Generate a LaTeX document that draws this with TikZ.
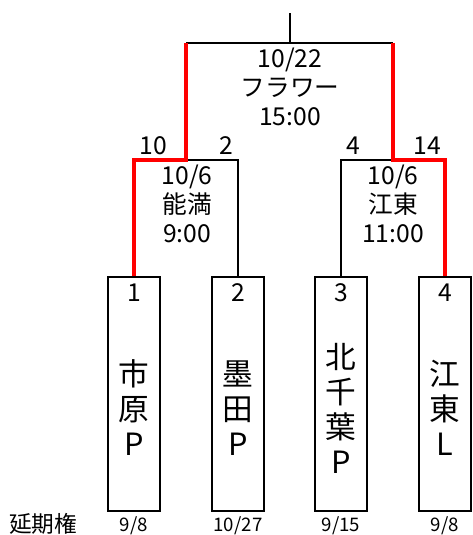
\documentclass[tikz,border=0pt]{standalone}
\usepackage{fontspec}
\setmainfont{Noto Sans CJK JP}
\usetikzlibrary{positioning}
\tikzset{team/.style={draw, line width=1.5pt, minimum width=39pt, minimum height=175.5pt, inner sep=0pt}}
\tikzset{bline/.style={line width=1.5pt}}
\tikzset{won/.style={red, line width=3pt}}
\tikzset{info/.style={align=center, inner sep=0pt, font=\fontsize{18.5}{22}\selectfont}}
\tikzset{club/.style={align=center, inner sep=0pt, font=\fontsize{23}{26.25}\selectfont}}
\tikzset{datesmall/.style={inner sep=0pt, font=\fontsize{14}{15}\selectfont}}

\begin{document}
\begin{tikzpicture}[x=0.75pt, y=-0.75pt]
	\useasboundingbox (0,0) rectangle (473,535);
	% teams
	\node [team] (t1) at (134,394) {};
	\node [team] (t2) at (238,394) {};
	\node [team] (t3) at (341,394) {};
	\node [team] (t4) at (445,394) {};
	\node [info] (n1) at (134,293) {1};
	\node [info] (n2) at (238,293) {2};
	\node [info] (n3) at (341,293) {3};
	\node [info] (n4) at (445,293) {4};
	\node [club] (p1) at (134,408) {市\\原\\P};
	\node [club] (p2) at (238,408) {墨\\田\\P};
	\node [club] (p3) at (341,408) {北\\千\\葉\\P};
	\node [club] (p4) at (445,408) {江\\東\\L};
	% bracket
	\coordinate (m1) at (186,160);
	\coordinate (m2) at (393,160);
	\coordinate (f1) at (186,43);
	\coordinate (f2) at (393,43);
	\coordinate (top) at (290,43);
	\coordinate (root) at (290,13);
	\draw [bline] (m1) -| (t2.north);
	\draw [bline] (t3.north) |- (m2);
	\draw [bline] (f1) -- (f2);
	\draw [bline] (top) -- (root);
	\draw [won] (t1.north) |- (m1) -- (f1);
	\draw [won] (f2) -- (m2) -| (t4.north);
	% games
	\node [info] (g1) at (187,204) {10/6\\能満\\9:00};
	\node [info] (g2) at (393,204) {10/6\\江東\\11:00};
	\node [info] (g3) at (290,87) {10/22\\フラワー\\15:00};
	\node [info] (s1) at (153,146) {10};
	\node [info] (s2) at (226,146) {2};
	\node [info] (s3) at (353,146) {4};
	\node [info] (s4) at (427,146) {14};
	% dates
	\node [info, font=\fontsize{17}{18}\selectfont] (ext) at (43,524) {延期権};
	\node [datesmall] (d1) at (134,526) {9/8};
	\node [datesmall] (d2) at (238,526) {10/27};
	\node [datesmall] (d3) at (341,526) {9/15};
	\node [datesmall] (d4) at (445,526) {9/8};
\end{tikzpicture}
\end{document}
